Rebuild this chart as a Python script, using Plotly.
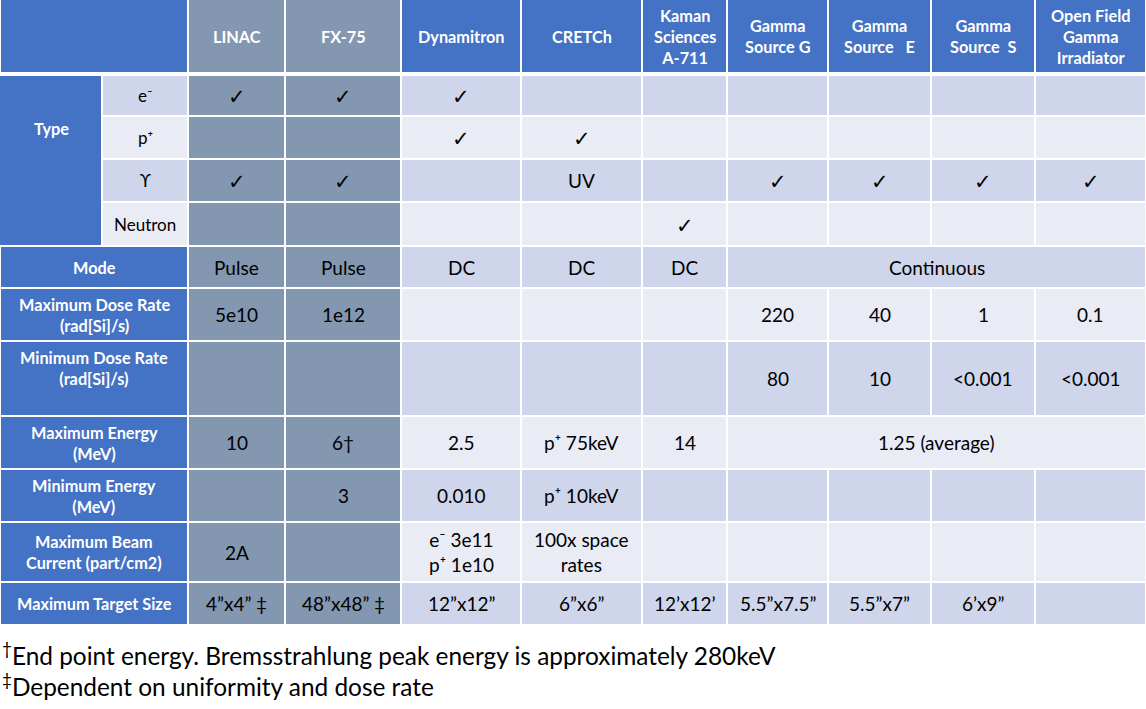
import plotly.graph_objects as go

# ---- data -------------------------------------------------------------------
machines = ["LINAC", "FX-75", "Dynamitron", "CRETCh", "Kaman<br>Sciences<br>A-711",
            "Gamma<br>Source G", "Gamma<br>Source   E", "Gamma<br>Source  S",
            "Open Field<br>Gamma<br>Irradiator"]

type_group = "Type"
type_labels = ["e⁻", "p⁺", "ϒ", "Neutron"]
type_marks = [
    ["✓", "✓", "✓", "", "", "", "", "", ""],
    ["", "", "✓", "✓", "", "", "", "", ""],
    ["✓", "✓", "", "UV", "", "✓", "✓", "✓", "✓"],
    ["", "", "", "", "✓", "", "", "", ""],
]

# None = cell merged with the one on its left
row_labels = ["Mode", "Maximum Dose Rate<br>(rad[Si]/s)", "Minimum Dose Rate<br>(rad[Si]/s)<br> ",
              "Maximum Energy<br>(MeV)", "Minimum Energy<br>(MeV)",
              "Maximum Beam<br>Current (part/cm2)", "Maximum Target Size"]
row_values = [
    ["Pulse", "Pulse", "DC", "DC", "DC", "Continuous", None, None, None],
    ["5e10", "1e12", "", "", "", "220", "40", "1", "0.1"],
    ["", "", "", "", "", "80", "10", "<0.001", "<0.001"],
    ["10", "6†", "2.5", "p⁺ 75keV", "14", "1.25 (average)", None, None, None],
    ["", "3", "0.010", "p⁺ 10keV", "", "", "", "", ""],
    ["2A", "", "e⁻ 3e11<br>p⁺ 1e10", "100x space<br>rates", "", "", "", "", ""],
    ["4”x4” ‡", "48”x48” ‡", "12”x12”", "6”x6”", "12’x12’", "5.5”x7.5”", "5.5”x7”", "6’x9”", ""],
]

footnotes = ["<sup>†</sup>End point energy. Bremsstrahlung peak energy is approximately 280keV",
             "<sup>‡</sup>Dependent on uniformity and dose rate"]

# ---- layout (pixel grid) ----------------------------------------------------
W, H = 1146, 709
col_edges = [0, 102, 188, 285, 401, 521, 642, 727, 828, 931, 1035, 1146]
row_edges = [0, 74, 116, 159, 202, 246, 288, 341, 416, 469, 522, 582, 625]
GAP = 1
TYPE_LABEL_Y = 128   # the group label sits high in its merged cell
FOOT_Y0, FOOT_DY = 654, 31

BLUE = "#4472C4"
GREY = "#8497B0"
DARK = "#CFD5EA"
LIGHT = "#E9EBF5"
FONT = "Lato"
HEAD_SIZE = 16.3
BODY_SIZE = 19

shapes = []
annotations = []


def cell(c0, c1, r, fill, text="", color="black", size=BODY_SIZE, bold=False):
    x0, x1 = col_edges[c0] + GAP, col_edges[c1] - GAP
    y0, y1 = row_edges[r] + GAP, row_edges[r + 1] - GAP
    if r == 0:
        y0, y1 = 0, row_edges[1] - 2
    if r == 1:
        y0 = row_edges[1] + 2
    shapes.append(dict(type="rect", xref="x", yref="y", x0=x0, x1=x1, y0=y0, y1=y1,
                       fillcolor=fill, line=dict(width=0), layer="below"))
    if text:
        if text == "✓":
            size = 21
        annotations.append(dict(x=(x0 + x1) / 2, y=(y0 + y1) / 2, xref="x", yref="y",
                                text=f"<b>{text}</b>" if bold else text, showarrow=False,
                                xanchor="center", yanchor="middle",
                                font=dict(family=FONT, size=size, color=color)))


def data_fill(ci, ri):
    if ci < 2:
        return GREY
    return DARK if ri % 2 == 0 else LIGHT


# header
cell(0, 2, 0, BLUE)
for i, m in enumerate(machines):
    cell(i + 2, i + 3, 0, GREY if i < 2 else BLUE, m, "white", HEAD_SIZE, True)

# type block
r_type0 = 1
shapes.append(dict(type="rect", xref="x", yref="y", x0=col_edges[0], x1=col_edges[1] - GAP,
                   y0=row_edges[r_type0] + 2, y1=row_edges[r_type0 + len(type_labels)] - GAP,
                   fillcolor=BLUE, line=dict(width=0), layer="below"))
annotations.append(dict(x=col_edges[1] / 2, y=TYPE_LABEL_Y,
                        xref="x", yref="y", text=f"<b>{type_group}</b>", showarrow=False,
                        font=dict(family=FONT, size=HEAD_SIZE, color="white")))
for k, (lab, marks) in enumerate(zip(type_labels, type_marks)):
    r = r_type0 + k
    cell(1, 2, r, DARK if k % 2 == 0 else LIGHT, lab, "black", 17)
    for i, v in enumerate(marks):
        cell(i + 2, i + 3, r, data_fill(i, k), v)

# remaining rows
for k, (lab, vals) in enumerate(zip(row_labels, row_values)):
    r = r_type0 + len(type_labels) + k
    ri = len(type_labels) + k
    cell(0, 2, r, BLUE, lab, "white", HEAD_SIZE, True)
    i = 0
    while i < len(vals):
        j = i + 1
        while j < len(vals) and vals[j] is None:
            j += 1
        cell(i + 2, j + 2, r, data_fill(i, ri), vals[i])
        i = j

# footnotes
for n, txt in enumerate(footnotes):
    annotations.append(dict(x=0, y=FOOT_Y0 + FOOT_DY * n, xref="x", yref="y", text=txt,
                            showarrow=False, xanchor="left", yanchor="middle",
                            font=dict(family=FONT, size=24.4, color="black")))

fig = go.Figure()
fig.update_layout(width=W, height=H, margin=dict(l=0, r=0, t=0, b=0),
                  paper_bgcolor="white", plot_bgcolor="white",
                  xaxis=dict(range=[0, W], visible=False, fixedrange=True),
                  yaxis=dict(range=[H, 0], visible=False, fixedrange=True),
                  shapes=shapes, annotations=annotations, showlegend=False)
fig.write_html("out.html", config={"displayModeBar": False},
               post_script="document.body.style.margin='0';")
